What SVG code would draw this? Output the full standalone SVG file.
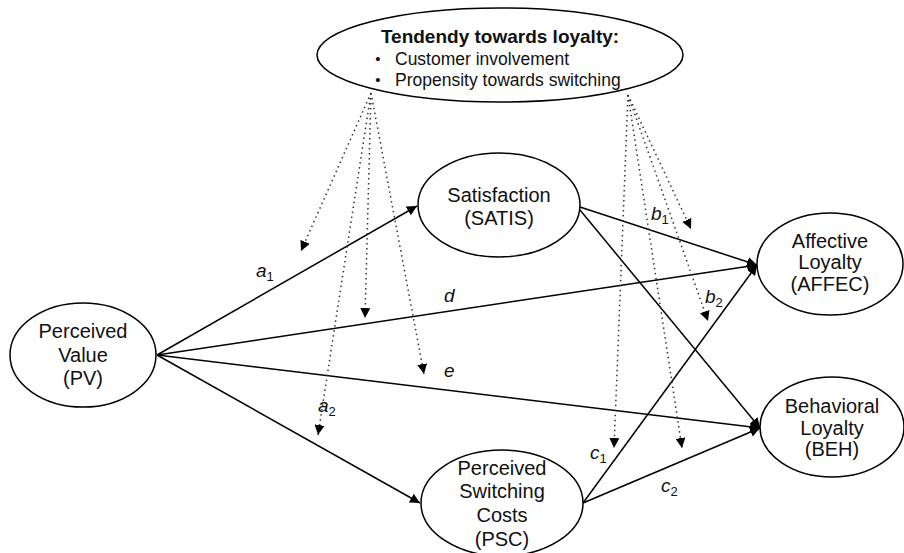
<svg xmlns="http://www.w3.org/2000/svg" width="904" height="553" viewBox="0 0 904 553">
<style>
.node{fill:#fff;stroke:#000;stroke-width:1.5}
.t{font-family:"Liberation Sans",Arial,sans-serif;font-size:20px;fill:#111;text-anchor:middle}
.lab{font-family:"Liberation Sans",Arial,sans-serif;font-size:19px;font-style:italic;fill:#111}
.sub{font-size:13px;font-style:normal}
.c{stroke:#000;stroke-width:1.5;fill:none;marker-end:url(#ah)}
.d{stroke:#333;stroke-width:1.5;fill:none;stroke-dasharray:1.5 3.5;marker-end:url(#ah)}
</style>
<defs>
<marker id="ah" viewBox="0 0 10 10" refX="10" refY="5" markerWidth="10" markerHeight="10" markerUnits="userSpaceOnUse" orient="auto">
<path d="M0,0 L10,5 L0,10 z" fill="#000"/>
</marker>
</defs>
<g id="connectors">
<line class="c" x1="157" y1="355" x2="417" y2="206"/>
<line class="c" x1="157" y1="355" x2="420" y2="503"/>
<line class="c" x1="157" y1="355" x2="757" y2="265"/>
<line class="c" x1="157" y1="355" x2="760" y2="428"/>
<line class="c" x1="580" y1="207" x2="757" y2="265"/>
<line class="c" x1="580" y1="210" x2="760" y2="428"/>
<line class="c" x1="583" y1="503" x2="757" y2="265"/>
<line class="c" x1="583" y1="503" x2="760" y2="428"/>
<line class="d" x1="371" y1="93" x2="301" y2="251"/>
<line class="d" x1="371" y1="93" x2="365" y2="318"/>
<line class="d" x1="371" y1="93" x2="424" y2="374"/>
<line class="d" x1="371" y1="93" x2="318" y2="435"/>
<line class="d" x1="628" y1="95" x2="691" y2="229"/>
<line class="d" x1="628" y1="95" x2="708" y2="321"/>
<line class="d" x1="628" y1="95" x2="614" y2="448"/>
<line class="d" x1="628" y1="95" x2="682" y2="448"/>
</g>
<g id="labels">
<text class="lab" x="256" y="277">a<tspan class="sub" dy="4">1</tspan></text>
<text class="lab" x="444" y="302">d</text>
<text class="lab" x="444" y="377">e</text>
<text class="lab" x="318" y="412">a<tspan class="sub" dy="4">2</tspan></text>
<text class="lab" x="651" y="220">b<tspan class="sub" dy="4">1</tspan></text>
<text class="lab" x="705" y="303">b<tspan class="sub" dy="4">2</tspan></text>
<text class="lab" x="590" y="459">c<tspan class="sub" dy="4">1</tspan></text>
<text class="lab" x="661" y="492">c<tspan class="sub" dy="4">2</tspan></text>
</g>
<g id="moderator">
<ellipse class="node" cx="500" cy="55" rx="183" ry="47"/>
<text class="t" x="500" y="43" font-weight="bold" style="font-size:19px">Tendendy towards loyalty:</text>
<text class="t" x="378" y="64" style="font-size:15px">•</text>
<text class="t" x="378" y="85" style="font-size:15px">•</text>
<text class="t" x="395" y="65" style="text-anchor:start;font-size:17.5px">Customer involvement</text>
<text class="t" x="395" y="86" style="text-anchor:start;font-size:17.5px">Propensity towards switching</text>
</g>
<g id="satis">
<ellipse class="node" cx="499" cy="205" rx="81" ry="52"/>
<text class="t" x="499" y="202">Satisfaction</text>
<text class="t" x="499" y="225">(SATIS)</text>
</g>
<g id="pv">
<ellipse class="node" cx="83" cy="355" rx="73" ry="52"/>
<text class="t" x="83" y="338">Perceived</text>
<text class="t" x="83" y="362">Value</text>
<text class="t" x="83" y="385">(PV)</text>
</g>
<g id="psc">
<ellipse class="node" cx="502" cy="503" rx="81" ry="53"/>
<text class="t" x="502" y="475">Perceived</text>
<text class="t" x="502" y="498">Switching</text>
<text class="t" x="502" y="522">Costs</text>
<text class="t" x="502" y="546">(PSC)</text>
</g>
<g id="affec">
<ellipse class="node" cx="830" cy="264" rx="73" ry="51"/>
<text class="t" x="830" y="248">Affective</text>
<text class="t" x="830" y="269">Loyalty</text>
<text class="t" x="830" y="291">(AFFEC)</text>
</g>
<g id="beh">
<ellipse class="node" cx="832" cy="427" rx="72" ry="50"/>
<text class="t" x="832" y="413">Behavioral</text>
<text class="t" x="832" y="435">Loyalty</text>
<text class="t" x="832" y="456">(BEH)</text>
</g>
</svg>
